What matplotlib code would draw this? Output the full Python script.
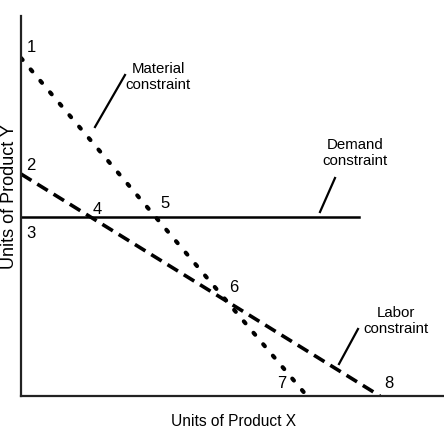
import matplotlib
matplotlib.use('Agg')
import matplotlib.pyplot as plt

plt.rcParams['font.family'] = ['Liberation Sans', 'DejaVu Sans']

# constraint lines (x, y) in units of product
material_x = [0, 28.6]
material_y = [33.8, 0]
labor_x = [0, 35.9]
labor_y = [22.2, 0]
demand_x = [0, 33.8]
demand_y = [17.9, 17.9]

# corner point labels
pt_labels = ['1', '2', '3', '4', '5', '6', '7', '8']
pt_x = [1.0, 1.0, 1.0, 7.6, 14.4, 21.3, 26.1, 36.8]
pt_y = [34.8, 23.1, 16.2, 18.7, 19.3, 10.9, 1.2, 1.2]


def main():
    fig = plt.figure(figsize=(4.44, 4.34), dpi=100)
    ax = fig.add_axes([21 / 444, 38 / 434, 423 / 444, 380 / 434])
    ax.set_xlim(0, 42.3)
    ax.set_ylim(0, 38)
    for s in ['top', 'right']:
        ax.spines[s].set_visible(False)
    for s in ['left', 'bottom']:
        ax.spines[s].set_linewidth(1.6)
        ax.spines[s].set_color('#222222')
    ax.set_xticks([])
    ax.set_yticks([])

    ax.plot(material_x, material_y, color='black', lw=3,
            linestyle=(0, (0.6, 3.0)), dash_capstyle='round')
    ax.plot(labor_x, labor_y, color='black', lw=2.6, linestyle=(0, (3.4, 1.9)))
    ax.plot(demand_x, demand_y, color='black', lw=1.8)

    for lab, x, y in zip(pt_labels, pt_x, pt_y):
        ax.text(x, y, lab, fontsize=12, ha='center', va='center')

    ax.plot([10.4, 7.4], [32.1, 26.9], color='black', lw=1.6)
    ax.text(13.7, 31.9, 'Material\nconstraint', fontsize=10.8, ha='center',
            va='center', linespacing=1.2)
    ax.plot([31.4, 29.9], [21.8, 18.4], color='black', lw=1.6)
    ax.text(33.4, 24.3, 'Demand\nconstraint', fontsize=10.8, ha='center',
            va='center', linespacing=1.2)
    ax.plot([33.7, 31.8], [6.7, 3.2], color='black', lw=1.6)
    ax.text(37.5, 7.5, 'Labor\nconstraint', fontsize=10.8, ha='center',
            va='center', linespacing=1.2)

    fig.text(234 / 444, 1 - 422 / 434, 'Units of Product X', fontsize=11.2,
             ha='center', va='center')
    fig.text(10 / 444, 1 - 197 / 434, 'Units of Product Y', fontsize=13,
             ha='center', va='center', rotation=90)

    fig.savefig('out.png', dpi=100)


if __name__ == '__main__':
    main()
